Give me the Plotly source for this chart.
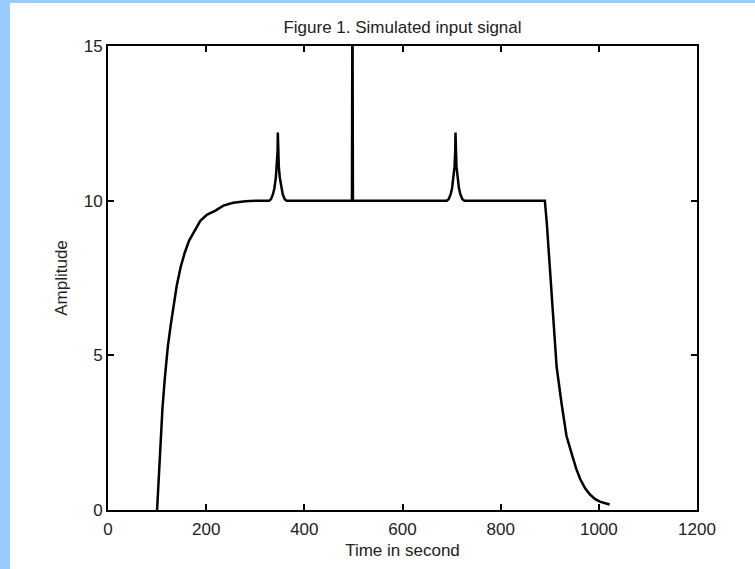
import plotly.graph_objects as go

# simulated input signal
time_s = [
    100, 103, 107, 111, 116, 122, 128, 134, 140, 148, 156, 165, 175, 188, 202,
    218, 235, 255, 280, 300,
    328, 332, 336, 339, 342, 344, 345.5, 346, 347, 348, 350, 353, 356, 360, 364,
    497, 498, 499,
    690, 694, 698, 701, 704, 706, 707.5, 708, 709, 710, 712, 715, 718, 722, 726,
    890, 894, 901, 907, 914, 924, 934, 946, 954, 962, 972, 982, 992, 1002, 1012, 1022,
]
amplitude = [
    0, 1.0, 2.2, 3.3, 4.3, 5.3, 6.0, 6.7, 7.25, 7.85, 8.3, 8.7, 9.0, 9.35, 9.55,
    9.67, 9.84, 9.93, 9.98, 10,
    10.0, 10.05, 10.2, 10.4, 10.75, 11.1, 11.6, 12.2, 11.6, 11.1, 10.75, 10.4, 10.2, 10.05, 10.0,
    10.0, 17.0, 10.0,
    10.0, 10.05, 10.2, 10.4, 10.75, 11.1, 11.6, 12.2, 11.6, 11.1, 10.75, 10.4, 10.2, 10.05, 10.0,
    10.0, 9.27, 7.65, 6.04, 4.63, 3.45, 2.4, 1.75, 1.33, 1.0, 0.7, 0.5, 0.36, 0.27, 0.22, 0.18,
]

x_ticks = [0, 200, 400, 600, 800, 1000, 1200]
y_ticks = [0, 5, 10, 15]

W, H = 755, 569
L, R, T, B = 108, 58, 46, 59
pw, ph = W - L - R, H - T - B
BLUE = "#99ccff"
FONT = "Liberation Sans, Arial, sans-serif"

fig = go.Figure()
fig.add_trace(
    go.Scatter(
        x=time_s,
        y=amplitude,
        mode="lines",
        line=dict(color="black", width=2.5),
        showlegend=False,
    )
)

axis_style = dict(
    showgrid=False,
    zeroline=False,
    showline=True,
    linecolor="black",
    linewidth=2,
    mirror="ticks",
    ticks="inside",
    ticklen=6,
    tickwidth=1.5,
    tickcolor="black",
    tickfont=dict(family=FONT, size=17, color="#222"),
)

fig.update_layout(
    width=W,
    height=H,
    margin=dict(l=L, r=R, t=T, b=B),
    paper_bgcolor="white",
    plot_bgcolor="white",
    font=dict(family=FONT, size=17, color="#222"),
    title=dict(
        text="Figure 1. Simulated input signal",
        x=(L + pw / 2) / W,
        xanchor="center",
        y=1 - 27 / H,
        yanchor="middle",
        font=dict(family=FONT, size=17, color="#222"),
    ),
    xaxis=dict(
        range=[0, 1200],
        tickvals=x_ticks,
        ticklabelstandoff=3,
        title=dict(text="Time in second", standoff=6, font=dict(size=17)),
        **axis_style,
    ),
    yaxis=dict(
        range=[0, 15],
        tickvals=y_ticks,
        title=dict(text="Amplitude", standoff=12, font=dict(size=17)),
        **axis_style,
    ),
    shapes=[
        # light blue window frame, left and top
        dict(type="rect", xref="paper", yref="paper", layer="below",
             x0=-L / pw, x1=(10 - L) / pw, y0=-B / ph, y1=(H - B) / ph,
             fillcolor=BLUE, line=dict(width=0)),
        dict(type="rect", xref="paper", yref="paper", layer="below",
             x0=-L / pw, x1=(W - L) / pw, y0=(H - B - 3) / ph, y1=(H - B) / ph,
             fillcolor=BLUE, line=dict(width=0)),
    ],
)

fig.write_html(
    "out.html",
    config={"displayModeBar": False},
    post_script="document.body.style.margin='0';",
)
